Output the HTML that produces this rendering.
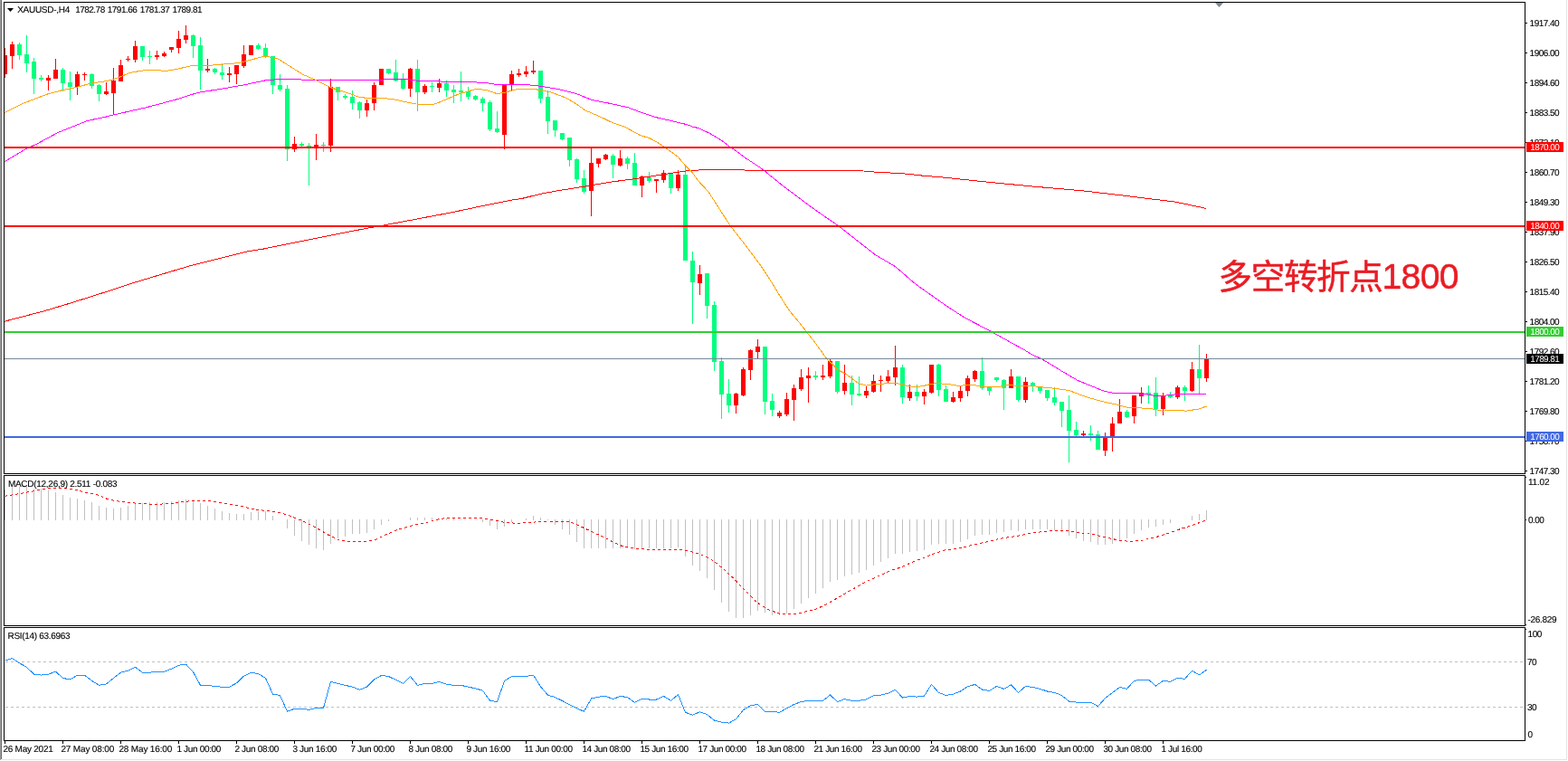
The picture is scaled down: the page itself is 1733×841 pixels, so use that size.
<!DOCTYPE html>
<html><head><meta charset="utf-8"><title>XAUUSD-,H4</title><style>
html,body{margin:0;padding:0;background:#fff;}
body{width:1733px;height:841px;overflow:hidden;position:relative;}
svg{position:absolute;left:0;top:0;display:block;}
.t{font-family:"Liberation Sans", Arial, sans-serif;font-size:10px;fill:#000;stroke:#000;stroke-width:0.12px;text-rendering:geometricPrecision;}
.tw{font-family:"Liberation Sans", Arial, sans-serif;font-size:10px;fill:#fff;text-rendering:geometricPrecision;}
.cn{font-family:"Liberation Sans","Noto Sans CJK SC",sans-serif;font-size:37.5px;fill:#ea1c24;stroke:#ea1c24;stroke-width:0.5px;}
</style></head><body>
<svg width="1733" height="841" viewBox="0 0 1733 841">
<defs><clipPath id="cm"><rect x="5" y="3" width="1680" height="520"/></clipPath>
<clipPath id="cd"><rect x="5" y="526" width="1680" height="165"/></clipPath>
<clipPath id="cr"><rect x="5" y="694" width="1680" height="124"/></clipPath></defs>
<rect x="0" y="0" width="1733" height="841" fill="#ffffff"/>
<rect x="0" y="0" width="1" height="840" fill="#a0a0a0"/>
<rect x="1" y="0" width="1" height="839" fill="#696969"/>
<rect x="2" y="839" width="1730" height="1" fill="#e3e3e3"/>
<rect x="1731" y="0" width="1" height="840" fill="#e3e3e3"/>
<g clip-path="url(#cm)" shape-rendering="crispEdges">
<rect x="5" y="53" width="1" height="33" fill="#ff0000"/>
<rect x="3" y="61" width="5" height="21" fill="#ff0000"/>
<rect x="13" y="46" width="1" height="30" fill="#ff0000"/>
<rect x="11" y="49" width="5" height="13" fill="#ff0000"/>
<rect x="21" y="47" width="1" height="19" fill="#00ff7f"/>
<rect x="19" y="49" width="5" height="12" fill="#00ff7f"/>
<rect x="29" y="39" width="1" height="41" fill="#00ff7f"/>
<rect x="27" y="60" width="5" height="10" fill="#00ff7f"/>
<rect x="37" y="64" width="1" height="40" fill="#00ff7f"/>
<rect x="35" y="68" width="5" height="19" fill="#00ff7f"/>
<rect x="45" y="83" width="1" height="7" fill="#00ff7f"/>
<rect x="43" y="86" width="5" height="2" fill="#00ff7f"/>
<rect x="53" y="83" width="1" height="17" fill="#ff0000"/>
<rect x="51" y="86" width="5" height="3" fill="#ff0000"/>
<rect x="61" y="65" width="1" height="22" fill="#ff0000"/>
<rect x="59" y="77" width="5" height="10" fill="#ff0000"/>
<rect x="69" y="75" width="1" height="26" fill="#00ff7f"/>
<rect x="67" y="77" width="5" height="15" fill="#00ff7f"/>
<rect x="77" y="79" width="1" height="32" fill="#00ff7f"/>
<rect x="75" y="91" width="5" height="5" fill="#00ff7f"/>
<rect x="85" y="79" width="1" height="26" fill="#ff0000"/>
<rect x="83" y="82" width="5" height="14" fill="#ff0000"/>
<rect x="93" y="80" width="1" height="9" fill="#ff0000"/>
<rect x="91" y="82" width="5" height="1" fill="#ff0000"/>
<rect x="101" y="81" width="1" height="17" fill="#00ff7f"/>
<rect x="99" y="82" width="5" height="13" fill="#00ff7f"/>
<rect x="109" y="93" width="1" height="19" fill="#00ff7f"/>
<rect x="107" y="94" width="5" height="10" fill="#00ff7f"/>
<rect x="117" y="91" width="1" height="14" fill="#ff0000"/>
<rect x="115" y="101" width="5" height="3" fill="#ff0000"/>
<rect x="125" y="75" width="1" height="52" fill="#ff0000"/>
<rect x="123" y="89" width="5" height="14" fill="#ff0000"/>
<rect x="133" y="66" width="1" height="24" fill="#ff0000"/>
<rect x="131" y="72" width="5" height="18" fill="#ff0000"/>
<rect x="141" y="62" width="1" height="6" fill="#ff0000"/>
<rect x="139" y="65" width="5" height="1" fill="#ff0000"/>
<rect x="149" y="45" width="1" height="24" fill="#ff0000"/>
<rect x="147" y="51" width="5" height="15" fill="#ff0000"/>
<rect x="157" y="51" width="1" height="16" fill="#00ff7f"/>
<rect x="155" y="51" width="5" height="12" fill="#00ff7f"/>
<rect x="165" y="56" width="1" height="15" fill="#00ff7f"/>
<rect x="163" y="62" width="5" height="1" fill="#00ff7f"/>
<rect x="173" y="56" width="1" height="10" fill="#ff0000"/>
<rect x="171" y="61" width="5" height="2" fill="#ff0000"/>
<rect x="181" y="57" width="1" height="6" fill="#ff0000"/>
<rect x="179" y="59" width="5" height="3" fill="#ff0000"/>
<rect x="189" y="52" width="1" height="6" fill="#ff0000"/>
<rect x="187" y="52" width="5" height="3" fill="#ff0000"/>
<rect x="197" y="34" width="1" height="25" fill="#ff0000"/>
<rect x="195" y="43" width="5" height="10" fill="#ff0000"/>
<rect x="205" y="28" width="1" height="20" fill="#ff0000"/>
<rect x="203" y="39" width="5" height="5" fill="#ff0000"/>
<rect x="213" y="38" width="1" height="26" fill="#00ff7f"/>
<rect x="211" y="39" width="5" height="12" fill="#00ff7f"/>
<rect x="221" y="41" width="1" height="58" fill="#00ff7f"/>
<rect x="219" y="50" width="5" height="28" fill="#00ff7f"/>
<rect x="229" y="65" width="1" height="15" fill="#ff0000"/>
<rect x="227" y="76" width="5" height="2" fill="#ff0000"/>
<rect x="237" y="75" width="1" height="7" fill="#00ff7f"/>
<rect x="235" y="76" width="5" height="4" fill="#00ff7f"/>
<rect x="245" y="70" width="1" height="18" fill="#00ff7f"/>
<rect x="243" y="80" width="5" height="3" fill="#00ff7f"/>
<rect x="253" y="74" width="1" height="17" fill="#ff0000"/>
<rect x="251" y="81" width="5" height="2" fill="#ff0000"/>
<rect x="261" y="72" width="1" height="21" fill="#ff0000"/>
<rect x="259" y="72" width="5" height="10" fill="#ff0000"/>
<rect x="269" y="50" width="1" height="25" fill="#ff0000"/>
<rect x="267" y="60" width="5" height="13" fill="#ff0000"/>
<rect x="277" y="50" width="1" height="11" fill="#ff0000"/>
<rect x="275" y="50" width="5" height="11" fill="#ff0000"/>
<rect x="285" y="48" width="1" height="7" fill="#00ff7f"/>
<rect x="283" y="50" width="5" height="4" fill="#00ff7f"/>
<rect x="293" y="48" width="1" height="16" fill="#00ff7f"/>
<rect x="291" y="53" width="5" height="9" fill="#00ff7f"/>
<rect x="301" y="62" width="1" height="42" fill="#00ff7f"/>
<rect x="299" y="62" width="5" height="32" fill="#00ff7f"/>
<rect x="309" y="82" width="1" height="19" fill="#00ff7f"/>
<rect x="307" y="94" width="5" height="5" fill="#00ff7f"/>
<rect x="317" y="94" width="1" height="84" fill="#00ff7f"/>
<rect x="315" y="98" width="5" height="67" fill="#00ff7f"/>
<rect x="325" y="151" width="1" height="17" fill="#ff0000"/>
<rect x="323" y="159" width="5" height="6" fill="#ff0000"/>
<rect x="333" y="157" width="1" height="5" fill="#00ff7f"/>
<rect x="331" y="159" width="5" height="2" fill="#00ff7f"/>
<rect x="341" y="158" width="1" height="47" fill="#00ff7f"/>
<rect x="339" y="161" width="5" height="1" fill="#00ff7f"/>
<rect x="349" y="148" width="1" height="29" fill="#ff0000"/>
<rect x="347" y="160" width="5" height="3" fill="#ff0000"/>
<rect x="357" y="157" width="1" height="11" fill="#00ff7f"/>
<rect x="355" y="160" width="5" height="1" fill="#00ff7f"/>
<rect x="365" y="87" width="1" height="81" fill="#ff0000"/>
<rect x="363" y="96" width="5" height="65" fill="#ff0000"/>
<rect x="373" y="96" width="1" height="15" fill="#00ff7f"/>
<rect x="371" y="96" width="5" height="6" fill="#00ff7f"/>
<rect x="381" y="104" width="1" height="6" fill="#00ff7f"/>
<rect x="379" y="106" width="5" height="2" fill="#00ff7f"/>
<rect x="389" y="100" width="1" height="21" fill="#00ff7f"/>
<rect x="387" y="107" width="5" height="7" fill="#00ff7f"/>
<rect x="397" y="112" width="1" height="19" fill="#00ff7f"/>
<rect x="395" y="113" width="5" height="9" fill="#00ff7f"/>
<rect x="405" y="110" width="1" height="19" fill="#ff0000"/>
<rect x="403" y="114" width="5" height="8" fill="#ff0000"/>
<rect x="413" y="91" width="1" height="31" fill="#ff0000"/>
<rect x="411" y="94" width="5" height="20" fill="#ff0000"/>
<rect x="421" y="76" width="1" height="18" fill="#ff0000"/>
<rect x="419" y="76" width="5" height="18" fill="#ff0000"/>
<rect x="429" y="76" width="1" height="6" fill="#00ff7f"/>
<rect x="427" y="76" width="5" height="5" fill="#00ff7f"/>
<rect x="437" y="66" width="1" height="24" fill="#00ff7f"/>
<rect x="435" y="80" width="5" height="9" fill="#00ff7f"/>
<rect x="445" y="81" width="1" height="18" fill="#00ff7f"/>
<rect x="443" y="88" width="5" height="10" fill="#00ff7f"/>
<rect x="453" y="75" width="1" height="32" fill="#ff0000"/>
<rect x="451" y="76" width="5" height="22" fill="#ff0000"/>
<rect x="461" y="66" width="1" height="57" fill="#00ff7f"/>
<rect x="459" y="76" width="5" height="26" fill="#00ff7f"/>
<rect x="469" y="93" width="1" height="11" fill="#ff0000"/>
<rect x="467" y="95" width="5" height="7" fill="#ff0000"/>
<rect x="477" y="91" width="1" height="11" fill="#00ff7f"/>
<rect x="475" y="95" width="5" height="1" fill="#00ff7f"/>
<rect x="485" y="87" width="1" height="15" fill="#ff0000"/>
<rect x="483" y="92" width="5" height="5" fill="#ff0000"/>
<rect x="493" y="89" width="1" height="18" fill="#00ff7f"/>
<rect x="491" y="92" width="5" height="8" fill="#00ff7f"/>
<rect x="501" y="94" width="1" height="20" fill="#00ff7f"/>
<rect x="499" y="99" width="5" height="3" fill="#00ff7f"/>
<rect x="509" y="79" width="1" height="33" fill="#00ff7f"/>
<rect x="507" y="100" width="5" height="2" fill="#00ff7f"/>
<rect x="517" y="96" width="1" height="14" fill="#00ff7f"/>
<rect x="515" y="101" width="5" height="6" fill="#00ff7f"/>
<rect x="525" y="105" width="1" height="6" fill="#00ff7f"/>
<rect x="523" y="106" width="5" height="4" fill="#00ff7f"/>
<rect x="533" y="107" width="1" height="16" fill="#00ff7f"/>
<rect x="531" y="109" width="5" height="5" fill="#00ff7f"/>
<rect x="541" y="111" width="1" height="34" fill="#00ff7f"/>
<rect x="539" y="113" width="5" height="30" fill="#00ff7f"/>
<rect x="549" y="123" width="1" height="24" fill="#00ff7f"/>
<rect x="547" y="142" width="5" height="4" fill="#00ff7f"/>
<rect x="557" y="94" width="1" height="71" fill="#ff0000"/>
<rect x="555" y="94" width="5" height="55" fill="#ff0000"/>
<rect x="565" y="78" width="1" height="22" fill="#ff0000"/>
<rect x="563" y="82" width="5" height="12" fill="#ff0000"/>
<rect x="573" y="76" width="1" height="9" fill="#ff0000"/>
<rect x="571" y="81" width="5" height="2" fill="#ff0000"/>
<rect x="581" y="73" width="1" height="12" fill="#ff0000"/>
<rect x="579" y="79" width="5" height="3" fill="#ff0000"/>
<rect x="589" y="67" width="1" height="15" fill="#ff0000"/>
<rect x="587" y="78" width="5" height="2" fill="#ff0000"/>
<rect x="597" y="78" width="1" height="36" fill="#00ff7f"/>
<rect x="595" y="78" width="5" height="31" fill="#00ff7f"/>
<rect x="605" y="100" width="1" height="48" fill="#00ff7f"/>
<rect x="603" y="107" width="5" height="27" fill="#00ff7f"/>
<rect x="613" y="133" width="1" height="18" fill="#00ff7f"/>
<rect x="611" y="133" width="5" height="11" fill="#00ff7f"/>
<rect x="621" y="147" width="1" height="8" fill="#00ff7f"/>
<rect x="619" y="147" width="5" height="7" fill="#00ff7f"/>
<rect x="629" y="152" width="1" height="32" fill="#00ff7f"/>
<rect x="627" y="152" width="5" height="25" fill="#00ff7f"/>
<rect x="637" y="175" width="1" height="27" fill="#00ff7f"/>
<rect x="635" y="176" width="5" height="22" fill="#00ff7f"/>
<rect x="645" y="188" width="1" height="26" fill="#00ff7f"/>
<rect x="643" y="197" width="5" height="15" fill="#00ff7f"/>
<rect x="653" y="163" width="1" height="76" fill="#ff0000"/>
<rect x="651" y="180" width="5" height="31" fill="#ff0000"/>
<rect x="661" y="175" width="1" height="10" fill="#ff0000"/>
<rect x="659" y="175" width="5" height="6" fill="#ff0000"/>
<rect x="669" y="170" width="1" height="7" fill="#ff0000"/>
<rect x="667" y="171" width="5" height="5" fill="#ff0000"/>
<rect x="677" y="170" width="1" height="27" fill="#00ff7f"/>
<rect x="675" y="172" width="5" height="10" fill="#00ff7f"/>
<rect x="685" y="166" width="1" height="18" fill="#ff0000"/>
<rect x="683" y="175" width="5" height="8" fill="#ff0000"/>
<rect x="693" y="173" width="1" height="14" fill="#00ff7f"/>
<rect x="691" y="175" width="5" height="6" fill="#00ff7f"/>
<rect x="701" y="169" width="1" height="36" fill="#00ff7f"/>
<rect x="699" y="180" width="5" height="25" fill="#00ff7f"/>
<rect x="709" y="194" width="1" height="24" fill="#ff0000"/>
<rect x="707" y="195" width="5" height="10" fill="#ff0000"/>
<rect x="717" y="190" width="1" height="12" fill="#00ff7f"/>
<rect x="715" y="196" width="5" height="4" fill="#00ff7f"/>
<rect x="725" y="198" width="1" height="15" fill="#ff0000"/>
<rect x="723" y="198" width="5" height="2" fill="#ff0000"/>
<rect x="733" y="188" width="1" height="14" fill="#ff0000"/>
<rect x="731" y="191" width="5" height="8" fill="#ff0000"/>
<rect x="741" y="192" width="1" height="22" fill="#00ff7f"/>
<rect x="739" y="192" width="5" height="16" fill="#00ff7f"/>
<rect x="749" y="188" width="1" height="23" fill="#ff0000"/>
<rect x="747" y="193" width="5" height="15" fill="#ff0000"/>
<rect x="757" y="184" width="1" height="104" fill="#00ff7f"/>
<rect x="755" y="193" width="5" height="95" fill="#00ff7f"/>
<rect x="765" y="278" width="1" height="80" fill="#00ff7f"/>
<rect x="763" y="288" width="5" height="24" fill="#00ff7f"/>
<rect x="773" y="293" width="1" height="33" fill="#ff0000"/>
<rect x="771" y="303" width="5" height="10" fill="#ff0000"/>
<rect x="781" y="302" width="1" height="50" fill="#00ff7f"/>
<rect x="779" y="302" width="5" height="36" fill="#00ff7f"/>
<rect x="789" y="333" width="1" height="77" fill="#00ff7f"/>
<rect x="787" y="337" width="5" height="63" fill="#00ff7f"/>
<rect x="797" y="395" width="1" height="68" fill="#00ff7f"/>
<rect x="795" y="399" width="5" height="37" fill="#00ff7f"/>
<rect x="805" y="419" width="1" height="37" fill="#00ff7f"/>
<rect x="803" y="435" width="5" height="13" fill="#00ff7f"/>
<rect x="813" y="434" width="1" height="23" fill="#ff0000"/>
<rect x="811" y="435" width="5" height="13" fill="#ff0000"/>
<rect x="821" y="406" width="1" height="32" fill="#ff0000"/>
<rect x="819" y="408" width="5" height="29" fill="#ff0000"/>
<rect x="829" y="386" width="1" height="34" fill="#ff0000"/>
<rect x="827" y="387" width="5" height="22" fill="#ff0000"/>
<rect x="837" y="375" width="1" height="21" fill="#ff0000"/>
<rect x="835" y="383" width="5" height="6" fill="#ff0000"/>
<rect x="845" y="383" width="1" height="75" fill="#00ff7f"/>
<rect x="843" y="383" width="5" height="61" fill="#00ff7f"/>
<rect x="853" y="435" width="1" height="25" fill="#00ff7f"/>
<rect x="851" y="443" width="5" height="10" fill="#00ff7f"/>
<rect x="861" y="454" width="1" height="8" fill="#ff0000"/>
<rect x="859" y="456" width="5" height="4" fill="#ff0000"/>
<rect x="869" y="434" width="1" height="26" fill="#ff0000"/>
<rect x="867" y="441" width="5" height="17" fill="#ff0000"/>
<rect x="877" y="425" width="1" height="40" fill="#ff0000"/>
<rect x="875" y="429" width="5" height="13" fill="#ff0000"/>
<rect x="885" y="408" width="1" height="24" fill="#ff0000"/>
<rect x="883" y="417" width="5" height="13" fill="#ff0000"/>
<rect x="893" y="406" width="1" height="39" fill="#ff0000"/>
<rect x="891" y="415" width="5" height="3" fill="#ff0000"/>
<rect x="901" y="410" width="1" height="10" fill="#00ff7f"/>
<rect x="899" y="415" width="5" height="2" fill="#00ff7f"/>
<rect x="909" y="403" width="1" height="17" fill="#ff0000"/>
<rect x="907" y="415" width="5" height="2" fill="#ff0000"/>
<rect x="917" y="396" width="1" height="22" fill="#ff0000"/>
<rect x="915" y="399" width="5" height="17" fill="#ff0000"/>
<rect x="925" y="399" width="1" height="36" fill="#00ff7f"/>
<rect x="923" y="399" width="5" height="34" fill="#00ff7f"/>
<rect x="933" y="403" width="1" height="33" fill="#ff0000"/>
<rect x="931" y="423" width="5" height="9" fill="#ff0000"/>
<rect x="941" y="415" width="1" height="33" fill="#00ff7f"/>
<rect x="939" y="423" width="5" height="13" fill="#00ff7f"/>
<rect x="949" y="416" width="1" height="22" fill="#00ff7f"/>
<rect x="947" y="435" width="5" height="2" fill="#00ff7f"/>
<rect x="957" y="427" width="1" height="13" fill="#ff0000"/>
<rect x="955" y="432" width="5" height="5" fill="#ff0000"/>
<rect x="965" y="414" width="1" height="20" fill="#ff0000"/>
<rect x="963" y="421" width="5" height="12" fill="#ff0000"/>
<rect x="973" y="415" width="1" height="18" fill="#ff0000"/>
<rect x="971" y="420" width="5" height="1" fill="#ff0000"/>
<rect x="981" y="409" width="1" height="14" fill="#ff0000"/>
<rect x="979" y="416" width="5" height="5" fill="#ff0000"/>
<rect x="989" y="382" width="1" height="44" fill="#ff0000"/>
<rect x="987" y="406" width="5" height="11" fill="#ff0000"/>
<rect x="997" y="403" width="1" height="43" fill="#00ff7f"/>
<rect x="995" y="406" width="5" height="33" fill="#00ff7f"/>
<rect x="1005" y="425" width="1" height="18" fill="#ff0000"/>
<rect x="1003" y="433" width="5" height="7" fill="#ff0000"/>
<rect x="1013" y="425" width="1" height="18" fill="#00ff7f"/>
<rect x="1011" y="433" width="5" height="5" fill="#00ff7f"/>
<rect x="1021" y="430" width="1" height="17" fill="#ff0000"/>
<rect x="1019" y="433" width="5" height="5" fill="#ff0000"/>
<rect x="1029" y="403" width="1" height="32" fill="#ff0000"/>
<rect x="1027" y="403" width="5" height="31" fill="#ff0000"/>
<rect x="1037" y="402" width="1" height="36" fill="#00ff7f"/>
<rect x="1035" y="403" width="5" height="28" fill="#00ff7f"/>
<rect x="1045" y="426" width="1" height="18" fill="#00ff7f"/>
<rect x="1043" y="430" width="5" height="14" fill="#00ff7f"/>
<rect x="1053" y="433" width="1" height="12" fill="#ff0000"/>
<rect x="1051" y="439" width="5" height="5" fill="#ff0000"/>
<rect x="1061" y="427" width="1" height="17" fill="#ff0000"/>
<rect x="1059" y="432" width="5" height="8" fill="#ff0000"/>
<rect x="1069" y="415" width="1" height="23" fill="#ff0000"/>
<rect x="1067" y="418" width="5" height="14" fill="#ff0000"/>
<rect x="1077" y="409" width="1" height="13" fill="#ff0000"/>
<rect x="1075" y="410" width="5" height="9" fill="#ff0000"/>
<rect x="1085" y="395" width="1" height="36" fill="#00ff7f"/>
<rect x="1083" y="410" width="5" height="19" fill="#00ff7f"/>
<rect x="1093" y="428" width="1" height="9" fill="#00ff7f"/>
<rect x="1091" y="428" width="5" height="4" fill="#00ff7f"/>
<rect x="1101" y="417" width="1" height="5" fill="#00ff7f"/>
<rect x="1099" y="417" width="5" height="3" fill="#00ff7f"/>
<rect x="1109" y="419" width="1" height="34" fill="#00ff7f"/>
<rect x="1107" y="420" width="5" height="9" fill="#00ff7f"/>
<rect x="1117" y="408" width="1" height="21" fill="#ff0000"/>
<rect x="1115" y="416" width="5" height="13" fill="#ff0000"/>
<rect x="1125" y="416" width="1" height="28" fill="#00ff7f"/>
<rect x="1123" y="416" width="5" height="26" fill="#00ff7f"/>
<rect x="1133" y="417" width="1" height="28" fill="#ff0000"/>
<rect x="1131" y="422" width="5" height="20" fill="#ff0000"/>
<rect x="1141" y="422" width="1" height="11" fill="#00ff7f"/>
<rect x="1139" y="423" width="5" height="4" fill="#00ff7f"/>
<rect x="1149" y="428" width="1" height="7" fill="#00ff7f"/>
<rect x="1147" y="428" width="5" height="4" fill="#00ff7f"/>
<rect x="1157" y="431" width="1" height="12" fill="#00ff7f"/>
<rect x="1155" y="431" width="5" height="9" fill="#00ff7f"/>
<rect x="1165" y="428" width="1" height="20" fill="#00ff7f"/>
<rect x="1163" y="439" width="5" height="6" fill="#00ff7f"/>
<rect x="1173" y="444" width="1" height="28" fill="#00ff7f"/>
<rect x="1171" y="444" width="5" height="10" fill="#00ff7f"/>
<rect x="1181" y="437" width="1" height="74" fill="#00ff7f"/>
<rect x="1179" y="453" width="5" height="23" fill="#00ff7f"/>
<rect x="1189" y="466" width="1" height="16" fill="#00ff7f"/>
<rect x="1187" y="475" width="5" height="6" fill="#00ff7f"/>
<rect x="1197" y="476" width="1" height="6" fill="#ff0000"/>
<rect x="1195" y="479" width="5" height="2" fill="#ff0000"/>
<rect x="1205" y="470" width="1" height="17" fill="#00ff7f"/>
<rect x="1203" y="479" width="5" height="2" fill="#00ff7f"/>
<rect x="1213" y="476" width="1" height="21" fill="#00ff7f"/>
<rect x="1211" y="480" width="5" height="17" fill="#00ff7f"/>
<rect x="1221" y="478" width="1" height="26" fill="#ff0000"/>
<rect x="1219" y="484" width="5" height="14" fill="#ff0000"/>
<rect x="1229" y="461" width="1" height="38" fill="#ff0000"/>
<rect x="1227" y="468" width="5" height="14" fill="#ff0000"/>
<rect x="1237" y="441" width="1" height="27" fill="#ff0000"/>
<rect x="1235" y="455" width="5" height="13" fill="#ff0000"/>
<rect x="1245" y="453" width="1" height="9" fill="#00ff7f"/>
<rect x="1243" y="455" width="5" height="6" fill="#00ff7f"/>
<rect x="1253" y="437" width="1" height="31" fill="#ff0000"/>
<rect x="1251" y="437" width="5" height="23" fill="#ff0000"/>
<rect x="1261" y="428" width="1" height="18" fill="#ff0000"/>
<rect x="1259" y="434" width="5" height="4" fill="#ff0000"/>
<rect x="1269" y="426" width="1" height="20" fill="#00ff7f"/>
<rect x="1267" y="434" width="5" height="2" fill="#00ff7f"/>
<rect x="1277" y="417" width="1" height="43" fill="#00ff7f"/>
<rect x="1275" y="434" width="5" height="18" fill="#00ff7f"/>
<rect x="1285" y="434" width="1" height="25" fill="#ff0000"/>
<rect x="1283" y="438" width="5" height="14" fill="#ff0000"/>
<rect x="1293" y="433" width="1" height="7" fill="#00ff7f"/>
<rect x="1291" y="437" width="5" height="2" fill="#00ff7f"/>
<rect x="1301" y="426" width="1" height="15" fill="#ff0000"/>
<rect x="1299" y="428" width="5" height="11" fill="#ff0000"/>
<rect x="1309" y="426" width="1" height="17" fill="#00ff7f"/>
<rect x="1307" y="428" width="5" height="4" fill="#00ff7f"/>
<rect x="1317" y="400" width="1" height="33" fill="#ff0000"/>
<rect x="1315" y="408" width="5" height="24" fill="#ff0000"/>
<rect x="1325" y="381" width="1" height="55" fill="#00ff7f"/>
<rect x="1323" y="408" width="5" height="10" fill="#00ff7f"/>
<rect x="1333" y="391" width="1" height="31" fill="#ff0000"/>
<rect x="1331" y="396" width="5" height="22" fill="#ff0000"/>
<polyline points="4.5,355.3 48.7,343.8 80.8,334.1 112.9,323.9 145.1,313.3 177.2,303.6 209.3,294.0 241.4,286.0 273.5,277.9 290.5,275.2 342.4,264.8 394.4,254.4 429.0,248.0 463.6,241.5 498.2,235.0 532.8,227.6 567.5,220.7 576.5,219.5 597.9,214.2 619.3,210.3 645.0,206.3 676.5,200.9 699.2,198.0 726.0,193.9 752.7,189.7 760.5,188.7 777.8,187.7 850.5,188.2 954.4,189.0 970.0,190.3 985.5,191.1 1002.8,192.2 1020.2,194.2 1040.5,195.8 1092.4,201.3 1144.4,206.3 1196.3,210.8 1248.2,216.9 1300.1,223.3 1333.5,230.5" fill="none" stroke="#ff0000" stroke-width="1" />
<polyline points="4.5,179.1 28.5,164.6 40.5,159.2 64.7,146.2 96.9,133.4 115.5,129.5 125.8,126.9 161.1,118.9 192.9,110.5 218.6,102.4 244.8,98.2 270.9,93.6 292.5,89.0 308.7,87.5 328.9,87.9 349.1,88.5 369.3,88.9 388.5,88.6 409.3,88.3 449.9,87.5 459.0,89.0 482.5,89.6 490.5,90.4 521.9,90.7 537.5,91.7 547.5,93.2 578.5,93.2 597.9,95.3 619.3,99.0 636.5,103.3 653.6,110.3 674.5,114.4 693.9,118.7 708.2,124.1 726.0,129.9 743.8,133.9 758.1,137.4 766.5,140.4 772.4,141.6 778.3,144.6 784.3,147.3 790.2,150.8 796.2,154.4 802.1,158.6 806.3,162.1 811.1,165.1 817.0,169.3 823.0,174.0 830.5,178.8 841.9,186.4 864.4,204.6 895.5,228.0 912.6,240.0 926.8,249.7 967.2,281.4 989.5,294.6 1011.7,313.8 1046.1,338.1 1066.3,351.2 1094.6,365.8 1118.9,379.5 1130.9,385.9 1140.5,391.9 1151.2,396.7 1157.0,400.0 1174.8,410.9 1191.2,420.5 1204.9,426.0 1218.6,431.7 1229.5,434.2 1236.5,434.5 1258.7,434.8 1266.5,435.8 1274.4,437.1 1288.7,437.1 1290.1,436.2 1313.6,435.6 1333.5,435.4" fill="none" stroke="#ff00ff" stroke-width="1" />
<polyline points="4.5,124.8 26.5,113.9 52.5,104.0 69.5,99.5 85.5,96.2 100.5,92.1 116.1,89.9 126.5,87.3 135.7,83.8 143.5,80.4 152.7,78.8 161.9,77.3 174.9,77.3 180.2,78.6 185.4,78.2 196.5,76.2 212.1,72.5 231.7,72.3 247.4,71.0 263.1,69.7 276.2,66.4 292.5,62.1 306.7,64.6 318.8,72.3 335.0,82.4 349.1,88.5 365.3,96.6 377.4,100.6 388.5,104.2 396.3,107.1 408.0,108.8 417.2,108.4 426.3,108.8 436.8,110.1 447.2,112.5 460.3,115.0 478.6,115.4 484.5,113.4 494.8,109.2 509.0,103.1 516.2,101.4 526.1,98.2 537.6,99.6 549.0,103.5 557.5,102.5 566.1,99.9 573.2,98.2 580.5,98.1 593.5,99.0 608.5,101.8 625.8,108.2 636.5,114.6 647.2,122.1 662.2,128.5 676.5,135.4 690.3,140.1 708.2,149.9 717.1,152.2 726.0,157.0 736.7,164.2 749.1,173.1 758.1,183.8 765.2,190.9 772.5,200.7 782.9,211.8 806.5,248.6 823.8,270.9 840.5,293.2 851.2,309.3 861.9,326.9 872.6,343.5 883.3,356.3 890.8,365.9 900.5,378.2 913.9,396.8 927.0,409.2 934.1,412.8 948.5,423.5 950.5,424.1 957.6,426.1 965.9,424.9 976.6,424.1 983.7,423.2 994.5,424.1 1004.0,426.8 1013.5,427.4 1020.6,426.5 1027.7,424.7 1036.1,423.2 1044.5,424.5 1050.0,424.9 1059.5,426.4 1073.8,425.2 1085.7,427.2 1104.7,427.3 1114.2,425.2 1123.7,426.4 1140.5,426.4 1152.9,428.0 1166.6,429.4 1181.6,431.5 1194.0,436.3 1204.9,439.9 1218.6,443.8 1236.5,447.6 1245.6,450.2 1271.7,451.5 1284.8,454.1 1297.9,453.5 1311.0,454.1 1324.1,452.2 1333.5,449.0" fill="none" stroke="#ffa500" stroke-width="1" />
<rect x="5" y="162" width="1680" height="2" fill="#ff0000"/>
<rect x="5" y="249" width="1680" height="2" fill="#ff0000"/>
<rect x="5" y="366" width="1680" height="2" fill="#32cd32"/>
<rect x="5" y="396" width="1680" height="1" fill="#778899"/>
<rect x="5" y="482" width="1680" height="2" fill="#4169e1"/>
</g>
<polygon points="1343,3 1352,3 1347.5,8" fill="#778899"/>
<g clip-path="url(#cd)" shape-rendering="crispEdges">
<rect x="5" y="541" width="1" height="34" fill="#c0c0c0"/>
<rect x="13" y="537" width="1" height="38" fill="#c0c0c0"/>
<rect x="21" y="538" width="1" height="37" fill="#c0c0c0"/>
<rect x="29" y="538" width="1" height="37" fill="#c0c0c0"/>
<rect x="37" y="540" width="1" height="35" fill="#c0c0c0"/>
<rect x="45" y="540" width="1" height="35" fill="#c0c0c0"/>
<rect x="53" y="542" width="1" height="33" fill="#c0c0c0"/>
<rect x="61" y="544" width="1" height="31" fill="#c0c0c0"/>
<rect x="69" y="547" width="1" height="28" fill="#c0c0c0"/>
<rect x="77" y="550" width="1" height="25" fill="#c0c0c0"/>
<rect x="85" y="551" width="1" height="24" fill="#c0c0c0"/>
<rect x="93" y="553" width="1" height="22" fill="#c0c0c0"/>
<rect x="101" y="555" width="1" height="20" fill="#c0c0c0"/>
<rect x="109" y="559" width="1" height="16" fill="#c0c0c0"/>
<rect x="117" y="561" width="1" height="14" fill="#c0c0c0"/>
<rect x="125" y="562" width="1" height="13" fill="#c0c0c0"/>
<rect x="133" y="561" width="1" height="14" fill="#c0c0c0"/>
<rect x="141" y="559" width="1" height="16" fill="#c0c0c0"/>
<rect x="149" y="557" width="1" height="18" fill="#c0c0c0"/>
<rect x="157" y="556" width="1" height="19" fill="#c0c0c0"/>
<rect x="165" y="555" width="1" height="20" fill="#c0c0c0"/>
<rect x="173" y="555" width="1" height="20" fill="#c0c0c0"/>
<rect x="181" y="555" width="1" height="20" fill="#c0c0c0"/>
<rect x="189" y="554" width="1" height="21" fill="#c0c0c0"/>
<rect x="197" y="553" width="1" height="22" fill="#c0c0c0"/>
<rect x="205" y="552" width="1" height="23" fill="#c0c0c0"/>
<rect x="213" y="552" width="1" height="23" fill="#c0c0c0"/>
<rect x="221" y="556" width="1" height="19" fill="#c0c0c0"/>
<rect x="229" y="559" width="1" height="16" fill="#c0c0c0"/>
<rect x="237" y="562" width="1" height="13" fill="#c0c0c0"/>
<rect x="245" y="565" width="1" height="10" fill="#c0c0c0"/>
<rect x="253" y="567" width="1" height="8" fill="#c0c0c0"/>
<rect x="261" y="568" width="1" height="7" fill="#c0c0c0"/>
<rect x="269" y="568" width="1" height="7" fill="#c0c0c0"/>
<rect x="277" y="566" width="1" height="9" fill="#c0c0c0"/>
<rect x="285" y="565" width="1" height="10" fill="#c0c0c0"/>
<rect x="293" y="565" width="1" height="10" fill="#c0c0c0"/>
<rect x="301" y="570" width="1" height="5" fill="#c0c0c0"/>
<rect x="317" y="574" width="1" height="10" fill="#c0c0c0"/>
<rect x="325" y="574" width="1" height="18" fill="#c0c0c0"/>
<rect x="333" y="574" width="1" height="24" fill="#c0c0c0"/>
<rect x="341" y="574" width="1" height="28" fill="#c0c0c0"/>
<rect x="349" y="574" width="1" height="32" fill="#c0c0c0"/>
<rect x="357" y="574" width="1" height="34" fill="#c0c0c0"/>
<rect x="365" y="574" width="1" height="27" fill="#c0c0c0"/>
<rect x="373" y="574" width="1" height="21" fill="#c0c0c0"/>
<rect x="381" y="574" width="1" height="19" fill="#c0c0c0"/>
<rect x="389" y="574" width="1" height="16" fill="#c0c0c0"/>
<rect x="397" y="574" width="1" height="16" fill="#c0c0c0"/>
<rect x="405" y="574" width="1" height="15" fill="#c0c0c0"/>
<rect x="413" y="574" width="1" height="11" fill="#c0c0c0"/>
<rect x="421" y="574" width="1" height="6" fill="#c0c0c0"/>
<rect x="429" y="574" width="1" height="2" fill="#c0c0c0"/>
<rect x="453" y="572" width="1" height="3" fill="#c0c0c0"/>
<rect x="461" y="572" width="1" height="3" fill="#c0c0c0"/>
<rect x="469" y="572" width="1" height="3" fill="#c0c0c0"/>
<rect x="477" y="572" width="1" height="3" fill="#c0c0c0"/>
<rect x="485" y="573" width="1" height="2" fill="#c0c0c0"/>
<rect x="493" y="573" width="1" height="2" fill="#c0c0c0"/>
<rect x="501" y="573" width="1" height="2" fill="#c0c0c0"/>
<rect x="509" y="574" width="1" height="1" fill="#c0c0c0"/>
<rect x="533" y="574" width="1" height="3" fill="#c0c0c0"/>
<rect x="541" y="574" width="1" height="7" fill="#c0c0c0"/>
<rect x="549" y="574" width="1" height="11" fill="#c0c0c0"/>
<rect x="557" y="574" width="1" height="8" fill="#c0c0c0"/>
<rect x="565" y="574" width="1" height="3" fill="#c0c0c0"/>
<rect x="581" y="573" width="1" height="2" fill="#c0c0c0"/>
<rect x="589" y="570" width="1" height="5" fill="#c0c0c0"/>
<rect x="597" y="572" width="1" height="3" fill="#c0c0c0"/>
<rect x="605" y="574" width="1" height="1" fill="#c0c0c0"/>
<rect x="613" y="574" width="1" height="6" fill="#c0c0c0"/>
<rect x="621" y="574" width="1" height="11" fill="#c0c0c0"/>
<rect x="629" y="574" width="1" height="17" fill="#c0c0c0"/>
<rect x="637" y="574" width="1" height="25" fill="#c0c0c0"/>
<rect x="645" y="574" width="1" height="32" fill="#c0c0c0"/>
<rect x="653" y="574" width="1" height="32" fill="#c0c0c0"/>
<rect x="661" y="574" width="1" height="32" fill="#c0c0c0"/>
<rect x="669" y="574" width="1" height="32" fill="#c0c0c0"/>
<rect x="677" y="574" width="1" height="32" fill="#c0c0c0"/>
<rect x="685" y="574" width="1" height="32" fill="#c0c0c0"/>
<rect x="693" y="574" width="1" height="32" fill="#c0c0c0"/>
<rect x="701" y="574" width="1" height="33" fill="#c0c0c0"/>
<rect x="709" y="574" width="1" height="32" fill="#c0c0c0"/>
<rect x="717" y="574" width="1" height="32" fill="#c0c0c0"/>
<rect x="725" y="574" width="1" height="32" fill="#c0c0c0"/>
<rect x="733" y="574" width="1" height="32" fill="#c0c0c0"/>
<rect x="741" y="574" width="1" height="32" fill="#c0c0c0"/>
<rect x="749" y="574" width="1" height="31" fill="#c0c0c0"/>
<rect x="757" y="574" width="1" height="41" fill="#c0c0c0"/>
<rect x="765" y="574" width="1" height="51" fill="#c0c0c0"/>
<rect x="773" y="574" width="1" height="57" fill="#c0c0c0"/>
<rect x="781" y="574" width="1" height="65" fill="#c0c0c0"/>
<rect x="789" y="574" width="1" height="78" fill="#c0c0c0"/>
<rect x="797" y="574" width="1" height="92" fill="#c0c0c0"/>
<rect x="805" y="574" width="1" height="102" fill="#c0c0c0"/>
<rect x="813" y="574" width="1" height="109" fill="#c0c0c0"/>
<rect x="821" y="574" width="1" height="109" fill="#c0c0c0"/>
<rect x="829" y="574" width="1" height="106" fill="#c0c0c0"/>
<rect x="837" y="574" width="1" height="101" fill="#c0c0c0"/>
<rect x="845" y="574" width="1" height="103" fill="#c0c0c0"/>
<rect x="853" y="574" width="1" height="106" fill="#c0c0c0"/>
<rect x="861" y="574" width="1" height="106" fill="#c0c0c0"/>
<rect x="869" y="574" width="1" height="104" fill="#c0c0c0"/>
<rect x="877" y="574" width="1" height="99" fill="#c0c0c0"/>
<rect x="885" y="574" width="1" height="93" fill="#c0c0c0"/>
<rect x="893" y="574" width="1" height="87" fill="#c0c0c0"/>
<rect x="901" y="574" width="1" height="82" fill="#c0c0c0"/>
<rect x="909" y="574" width="1" height="76" fill="#c0c0c0"/>
<rect x="917" y="574" width="1" height="69" fill="#c0c0c0"/>
<rect x="925" y="574" width="1" height="67" fill="#c0c0c0"/>
<rect x="933" y="574" width="1" height="63" fill="#c0c0c0"/>
<rect x="941" y="574" width="1" height="61" fill="#c0c0c0"/>
<rect x="949" y="574" width="1" height="59" fill="#c0c0c0"/>
<rect x="957" y="574" width="1" height="56" fill="#c0c0c0"/>
<rect x="965" y="574" width="1" height="51" fill="#c0c0c0"/>
<rect x="973" y="574" width="1" height="47" fill="#c0c0c0"/>
<rect x="981" y="574" width="1" height="43" fill="#c0c0c0"/>
<rect x="989" y="574" width="1" height="38" fill="#c0c0c0"/>
<rect x="997" y="574" width="1" height="38" fill="#c0c0c0"/>
<rect x="1005" y="574" width="1" height="36" fill="#c0c0c0"/>
<rect x="1013" y="574" width="1" height="35" fill="#c0c0c0"/>
<rect x="1021" y="574" width="1" height="34" fill="#c0c0c0"/>
<rect x="1029" y="574" width="1" height="28" fill="#c0c0c0"/>
<rect x="1037" y="574" width="1" height="27" fill="#c0c0c0"/>
<rect x="1045" y="574" width="1" height="27" fill="#c0c0c0"/>
<rect x="1053" y="574" width="1" height="27" fill="#c0c0c0"/>
<rect x="1061" y="574" width="1" height="25" fill="#c0c0c0"/>
<rect x="1069" y="574" width="1" height="22" fill="#c0c0c0"/>
<rect x="1077" y="574" width="1" height="18" fill="#c0c0c0"/>
<rect x="1085" y="574" width="1" height="17" fill="#c0c0c0"/>
<rect x="1093" y="574" width="1" height="17" fill="#c0c0c0"/>
<rect x="1101" y="574" width="1" height="15" fill="#c0c0c0"/>
<rect x="1109" y="574" width="1" height="14" fill="#c0c0c0"/>
<rect x="1117" y="574" width="1" height="12" fill="#c0c0c0"/>
<rect x="1125" y="574" width="1" height="13" fill="#c0c0c0"/>
<rect x="1133" y="574" width="1" height="11" fill="#c0c0c0"/>
<rect x="1141" y="574" width="1" height="11" fill="#c0c0c0"/>
<rect x="1149" y="574" width="1" height="11" fill="#c0c0c0"/>
<rect x="1157" y="574" width="1" height="11" fill="#c0c0c0"/>
<rect x="1165" y="574" width="1" height="12" fill="#c0c0c0"/>
<rect x="1173" y="574" width="1" height="14" fill="#c0c0c0"/>
<rect x="1181" y="574" width="1" height="18" fill="#c0c0c0"/>
<rect x="1189" y="574" width="1" height="21" fill="#c0c0c0"/>
<rect x="1197" y="574" width="1" height="24" fill="#c0c0c0"/>
<rect x="1205" y="574" width="1" height="25" fill="#c0c0c0"/>
<rect x="1213" y="574" width="1" height="28" fill="#c0c0c0"/>
<rect x="1221" y="574" width="1" height="28" fill="#c0c0c0"/>
<rect x="1229" y="574" width="1" height="27" fill="#c0c0c0"/>
<rect x="1237" y="574" width="1" height="23" fill="#c0c0c0"/>
<rect x="1245" y="574" width="1" height="21" fill="#c0c0c0"/>
<rect x="1253" y="574" width="1" height="16" fill="#c0c0c0"/>
<rect x="1261" y="574" width="1" height="12" fill="#c0c0c0"/>
<rect x="1269" y="574" width="1" height="9" fill="#c0c0c0"/>
<rect x="1277" y="574" width="1" height="8" fill="#c0c0c0"/>
<rect x="1285" y="574" width="1" height="6" fill="#c0c0c0"/>
<rect x="1293" y="574" width="1" height="4" fill="#c0c0c0"/>
<rect x="1317" y="570" width="1" height="5" fill="#c0c0c0"/>
<rect x="1325" y="568" width="1" height="7" fill="#c0c0c0"/>
<rect x="1333" y="564" width="1" height="11" fill="#c0c0c0"/>
<polyline points="5.5,548.2 19.5,546.0 38.5,542.5 57.5,539.3 76.5,539.9 86.5,542.1 95.5,544.6 107.5,546.9 120.5,552.2 133.5,554.5 152.5,556.4 171.5,557.4 190.5,556.4 210.5,553.6 229.5,553.6 238.5,554.5 248.5,556.4 267.5,559.7 282.5,563.1 297.5,565.0 309.5,566.5 320.5,570.3 323.4,571.4 335.7,576.2 349.1,582.9 362.4,591.0 373.8,596.2 387.2,598.7 400.5,599.0 413.8,597.1 427.2,590.5 442.4,584.4 457.6,580.4 472.9,577.1 482.4,574.3 491.9,572.6 511.0,572.4 530.0,572.6 539.5,573.9 549.1,575.6 558.6,577.5 571.9,578.3 587.2,577.1 606.2,576.6 629.1,576.6 636.7,579.6 641.5,581.6 653.8,587.5 667.2,593.6 678.6,599.7 688.1,603.7 701.5,606.0 716.7,607.3 747.2,607.3 758.6,608.4 771.9,611.7 785.3,617.4 798.6,627.9 811.9,640.2 823.4,652.6 836.7,666.0 850.0,674.0 863.4,678.9 878.6,678.9 888.1,676.4 903.4,672.6 916.7,666.0 930.0,658.3 943.4,650.7 954.8,644.0 960.5,641.5 971.9,636.2 983.4,630.9 996.7,626.7 1008.1,621.3 1019.5,617.1 1032.9,611.8 1044.3,608.0 1061.5,605.7 1074.8,602.3 1090.0,599.0 1105.3,595.2 1124.3,592.4 1143.4,588.6 1162.4,586.7 1175.7,586.3 1192.9,588.6 1208.1,590.5 1223.4,594.3 1236.7,597.1 1250.0,598.5 1260.5,597.5 1265.9,596.4 1271.8,594.5 1277.7,593.5 1283.7,591.9 1289.6,589.8 1295.6,587.7 1302.1,585.5 1308.1,583.5 1314.0,581.6 1320.0,579.7 1325.9,577.5 1331.8,575.5 1333.6,574.9" fill="none" stroke="#ff0000" stroke-width="1" stroke-dasharray="3 3"/>
</g>
<g clip-path="url(#cr)" shape-rendering="crispEdges">
<line x1="6" y1="731.5" x2="1685" y2="731.5" stroke="#c0c0c0" stroke-width="1" stroke-dasharray="3 3"/>
<line x1="6" y1="781.5" x2="1685" y2="781.5" stroke="#c0c0c0" stroke-width="1" stroke-dasharray="3 3"/>
<polyline points="5.5,730.2 13.5,727.5 21.5,732.8 29.5,737.3 37.5,745.1 45.5,746.1 53.5,745.1 61.5,742.2 69.5,749.4 77.5,751.0 85.5,746.1 93.5,746.1 101.5,752.4 109.5,757.3 117.5,755.9 125.5,749.4 133.5,743.2 141.5,741.2 149.5,737.3 157.5,743.2 165.5,743.2 173.5,742.2 181.5,742.2 189.5,739.2 197.5,735.3 205.5,734.1 213.5,742.6 221.5,757.3 229.5,757.3 237.5,758.6 245.5,759.2 253.5,759.2 261.5,754.9 269.5,747.1 277.5,743.5 285.5,744.5 293.5,749.4 301.5,767.1 309.5,768.5 317.5,786.3 325.5,783.2 333.5,783.2 341.5,784.4 349.5,782.4 357.5,782.4 365.5,753.4 373.5,755.3 381.5,757.3 389.5,759.2 397.5,762.2 405.5,759.2 413.5,751.0 421.5,746.5 429.5,747.5 437.5,751.4 445.5,755.3 453.5,747.5 461.5,757.3 469.5,755.3 477.5,755.3 485.5,753.4 493.5,756.3 501.5,757.3 509.5,757.3 517.5,759.2 525.5,760.8 533.5,763.2 541.5,774.3 549.5,775.5 557.5,752.4 565.5,747.5 573.5,747.5 581.5,747.5 589.5,746.1 597.5,758.8 605.5,768.1 613.5,770.6 621.5,774.5 629.5,778.9 637.5,782.8 645.5,786.3 653.5,772.0 661.5,770.2 669.5,769.4 677.5,772.6 685.5,769.4 693.5,770.6 701.5,776.3 709.5,772.4 717.5,773.0 725.5,773.0 733.5,769.4 741.5,774.3 749.5,767.5 757.5,787.3 765.5,790.2 773.5,786.7 781.5,789.6 789.5,796.1 797.5,798.1 805.5,799.1 813.5,794.6 821.5,784.7 829.5,779.8 837.5,778.5 845.5,786.3 853.5,786.3 861.5,787.3 869.5,782.8 877.5,778.5 885.5,775.5 893.5,774.3 901.5,774.3 909.5,774.3 917.5,768.1 925.5,775.5 933.5,772.6 941.5,774.3 949.5,774.3 957.5,773.0 965.5,768.7 973.5,768.1 981.5,766.1 989.5,762.2 997.5,771.1 1005.5,769.5 1013.5,770.1 1021.5,769.1 1029.5,756.4 1037.5,765.4 1045.5,768.5 1053.5,767.1 1061.5,764.0 1069.5,758.8 1077.5,756.4 1085.5,762.0 1093.5,763.4 1101.5,758.4 1109.5,761.4 1117.5,756.8 1125.5,765.4 1133.5,758.4 1141.5,759.4 1149.5,761.4 1157.5,764.0 1165.5,765.4 1173.5,768.5 1181.5,775.1 1189.5,776.1 1197.5,776.1 1205.5,776.1 1213.5,780.6 1221.5,771.5 1229.5,765.4 1237.5,759.4 1245.5,761.4 1253.5,752.3 1261.5,751.3 1269.5,751.3 1277.5,758.0 1285.5,752.3 1293.5,753.3 1301.5,749.3 1309.5,750.3 1317.5,741.2 1325.5,745.9 1333.5,740.2" fill="none" stroke="#1e90ff" stroke-width="1" />
</g>
<g shape-rendering="crispEdges">
<rect x="4" y="2" width="1682" height="1" fill="#000"/>
<rect x="4" y="2" width="1" height="522" fill="#000"/>
<rect x="4" y="523" width="1682" height="1" fill="#000"/>
<rect x="1685" y="2" width="1" height="522" fill="#000"/>
<rect x="4" y="525" width="1682" height="1" fill="#000"/>
<rect x="4" y="525" width="1" height="167" fill="#000"/>
<rect x="4" y="691" width="1682" height="1" fill="#000"/>
<rect x="1685" y="525" width="1" height="167" fill="#000"/>
<rect x="4" y="693" width="1682" height="1" fill="#000"/>
<rect x="4" y="693" width="1" height="126" fill="#000"/>
<rect x="4" y="818" width="1682" height="1" fill="#000"/>
<rect x="1685" y="693" width="1" height="126" fill="#000"/>
<rect x="1686" y="25" width="2" height="1" fill="#000"/>
<rect x="1686" y="58" width="2" height="1" fill="#000"/>
<rect x="1686" y="91" width="2" height="1" fill="#000"/>
<rect x="1686" y="124" width="2" height="1" fill="#000"/>
<rect x="1686" y="157" width="2" height="1" fill="#000"/>
<rect x="1686" y="190" width="2" height="1" fill="#000"/>
<rect x="1686" y="223" width="2" height="1" fill="#000"/>
<rect x="1686" y="256" width="2" height="1" fill="#000"/>
<rect x="1686" y="289" width="2" height="1" fill="#000"/>
<rect x="1686" y="322" width="2" height="1" fill="#000"/>
<rect x="1686" y="355" width="2" height="1" fill="#000"/>
<rect x="1686" y="388" width="2" height="1" fill="#000"/>
<rect x="1686" y="421" width="2" height="1" fill="#000"/>
<rect x="1686" y="454" width="2" height="1" fill="#000"/>
<rect x="1686" y="487" width="2" height="1" fill="#000"/>
<rect x="1686" y="520" width="2" height="1" fill="#000"/>
<rect x="1686" y="574" width="1" height="1" fill="#000"/>
<rect x="1686" y="527" width="1" height="1" fill="#000"/>
<rect x="1686" y="690" width="1" height="1" fill="#000"/>
<rect x="1686" y="695" width="1" height="1" fill="#000"/>
<rect x="5" y="819" width="1" height="3" fill="#000"/>
<rect x="69" y="819" width="1" height="3" fill="#000"/>
<rect x="133" y="819" width="1" height="3" fill="#000"/>
<rect x="197" y="819" width="1" height="3" fill="#000"/>
<rect x="261" y="819" width="1" height="3" fill="#000"/>
<rect x="325" y="819" width="1" height="3" fill="#000"/>
<rect x="389" y="819" width="1" height="3" fill="#000"/>
<rect x="453" y="819" width="1" height="3" fill="#000"/>
<rect x="517" y="819" width="1" height="3" fill="#000"/>
<rect x="581" y="819" width="1" height="3" fill="#000"/>
<rect x="645" y="819" width="1" height="3" fill="#000"/>
<rect x="709" y="819" width="1" height="3" fill="#000"/>
<rect x="773" y="819" width="1" height="3" fill="#000"/>
<rect x="837" y="819" width="1" height="3" fill="#000"/>
<rect x="901" y="819" width="1" height="3" fill="#000"/>
<rect x="965" y="819" width="1" height="3" fill="#000"/>
<rect x="1029" y="819" width="1" height="3" fill="#000"/>
<rect x="1093" y="819" width="1" height="3" fill="#000"/>
<rect x="1157" y="819" width="1" height="3" fill="#000"/>
<rect x="1221" y="819" width="1" height="3" fill="#000"/>
<rect x="1285" y="819" width="1" height="3" fill="#000"/>
</g>
<text class="t" x="1690.6" y="29" textLength="33" lengthAdjust="spacing">1917.40</text>
<text class="t" x="1690.6" y="62" textLength="33" lengthAdjust="spacing">1906.00</text>
<text class="t" x="1690.6" y="95" textLength="33" lengthAdjust="spacing">1894.60</text>
<text class="t" x="1690.6" y="128" textLength="33" lengthAdjust="spacing">1883.50</text>
<text class="t" x="1690.6" y="161" textLength="33" lengthAdjust="spacing">1872.10</text>
<text class="t" x="1690.6" y="194" textLength="33" lengthAdjust="spacing">1860.70</text>
<text class="t" x="1690.6" y="227" textLength="33" lengthAdjust="spacing">1849.30</text>
<text class="t" x="1690.6" y="260" textLength="33" lengthAdjust="spacing">1837.90</text>
<text class="t" x="1690.6" y="293" textLength="33" lengthAdjust="spacing">1826.50</text>
<text class="t" x="1690.6" y="326" textLength="33" lengthAdjust="spacing">1815.40</text>
<text class="t" x="1690.6" y="359" textLength="33" lengthAdjust="spacing">1804.00</text>
<text class="t" x="1690.6" y="392" textLength="33" lengthAdjust="spacing">1792.60</text>
<text class="t" x="1690.6" y="425" textLength="33" lengthAdjust="spacing">1781.20</text>
<text class="t" x="1690.6" y="458" textLength="33" lengthAdjust="spacing">1769.80</text>
<text class="t" x="1690.6" y="491" textLength="33" lengthAdjust="spacing">1758.70</text>
<text class="t" x="1690.6" y="524" textLength="33" lengthAdjust="spacing">1747.30</text>
<rect x="1687" y="157" width="41" height="11" fill="#ff0000"/>
<text class="tw" x="1691.2" y="166" textLength="32.6" lengthAdjust="spacing">1870.00</text>
<rect x="1687" y="244" width="41" height="11" fill="#ff0000"/>
<text class="tw" x="1691.2" y="253" textLength="32.6" lengthAdjust="spacing">1840.00</text>
<rect x="1687" y="361" width="41" height="11" fill="#32cd32"/>
<text class="tw" x="1691.2" y="370" textLength="32.6" lengthAdjust="spacing">1800.00</text>
<rect x="1687" y="391" width="41" height="11" fill="#000000"/>
<text class="tw" x="1691.2" y="400" textLength="32.6" lengthAdjust="spacing">1789.81</text>
<rect x="1687" y="477" width="41" height="11" fill="#4169e1"/>
<text class="tw" x="1691.2" y="486" textLength="32.6" lengthAdjust="spacing">1760.00</text>
<text class="t" x="1688.9" y="536" textLength="23.7" lengthAdjust="spacing">11.02</text>
<text class="t" x="1688.9" y="578" textLength="18" lengthAdjust="spacing">0.00</text>
<text class="t" x="1688.6" y="688" textLength="32" lengthAdjust="spacing">-26.829</text>
<text class="t" x="1688.6" y="704" textLength="15.8" lengthAdjust="spacing">100</text>
<text class="t" x="1688" y="735" textLength="10.6" lengthAdjust="spacing">70</text>
<text class="t" x="1688" y="785" textLength="10.6" lengthAdjust="spacing">30</text>
<text class="t" x="1688.6" y="815">0</text>
<polygon points="8,9 15,9 11.5,13" fill="#000"/>
<text class="t" x="19.2" y="14" textLength="58" lengthAdjust="spacing">XAUUSD-,H4</text>
<text class="t" x="83.2" y="14" textLength="33" lengthAdjust="spacing">1782.78</text>
<text class="t" x="118.8" y="14" textLength="33" lengthAdjust="spacing">1791.66</text>
<text class="t" x="154.8" y="14" textLength="33" lengthAdjust="spacing">1781.37</text>
<text class="t" x="190.5" y="14" textLength="33" lengthAdjust="spacing">1789.81</text>
<text class="t" x="8.9" y="538" textLength="120.7" lengthAdjust="spacing">MACD(12,26,9) 2.511 -0.083</text>
<text class="t" x="8.6" y="706" textLength="68.9" lengthAdjust="spacing">RSI(14) 63.6963</text>
<text class="t" x="3.4" y="831" textLength="55.4" lengthAdjust="spacing">26 May 2021</text>
<text class="t" x="67.4" y="831" textLength="58.8" lengthAdjust="spacing">27 May 08:00</text>
<text class="t" x="131.4" y="831" textLength="58.8" lengthAdjust="spacing">28 May 16:00</text>
<text class="t" x="195.4" y="831" textLength="49" lengthAdjust="spacing">1 Jun 00:00</text>
<text class="t" x="259.4" y="831" textLength="49" lengthAdjust="spacing">2 Jun 08:00</text>
<text class="t" x="323.4" y="831" textLength="49" lengthAdjust="spacing">3 Jun 16:00</text>
<text class="t" x="387.4" y="831" textLength="49" lengthAdjust="spacing">7 Jun 00:00</text>
<text class="t" x="451.4" y="831" textLength="49" lengthAdjust="spacing">8 Jun 08:00</text>
<text class="t" x="515.4" y="831" textLength="49" lengthAdjust="spacing">9 Jun 16:00</text>
<text class="t" x="579.4" y="831" textLength="53.7" lengthAdjust="spacing">11 Jun 00:00</text>
<text class="t" x="643.4" y="831" textLength="53.7" lengthAdjust="spacing">14 Jun 08:00</text>
<text class="t" x="707.4" y="831" textLength="53.7" lengthAdjust="spacing">15 Jun 16:00</text>
<text class="t" x="771.4" y="831" textLength="53.7" lengthAdjust="spacing">17 Jun 00:00</text>
<text class="t" x="835.4" y="831" textLength="53.7" lengthAdjust="spacing">18 Jun 08:00</text>
<text class="t" x="899.4" y="831" textLength="53.7" lengthAdjust="spacing">21 Jun 16:00</text>
<text class="t" x="963.4" y="831" textLength="53.7" lengthAdjust="spacing">23 Jun 00:00</text>
<text class="t" x="1027.4" y="831" textLength="53.7" lengthAdjust="spacing">24 Jun 08:00</text>
<text class="t" x="1091.4" y="831" textLength="53.7" lengthAdjust="spacing">25 Jun 16:00</text>
<text class="t" x="1155.4" y="831" textLength="53.7" lengthAdjust="spacing">29 Jun 00:00</text>
<text class="t" x="1219.4" y="831" textLength="53.7" lengthAdjust="spacing">30 Jun 08:00</text>
<text class="t" x="1283.4" y="831" textLength="45.5" lengthAdjust="spacing">1 Jul 16:00</text>
<text class="cn" x="1346.5" y="318.5"><tspan letter-spacing="-1.3">多空转折点</tspan><tspan letter-spacing="-0.6" font-size="39">1800</tspan></text>
</svg></body></html>
